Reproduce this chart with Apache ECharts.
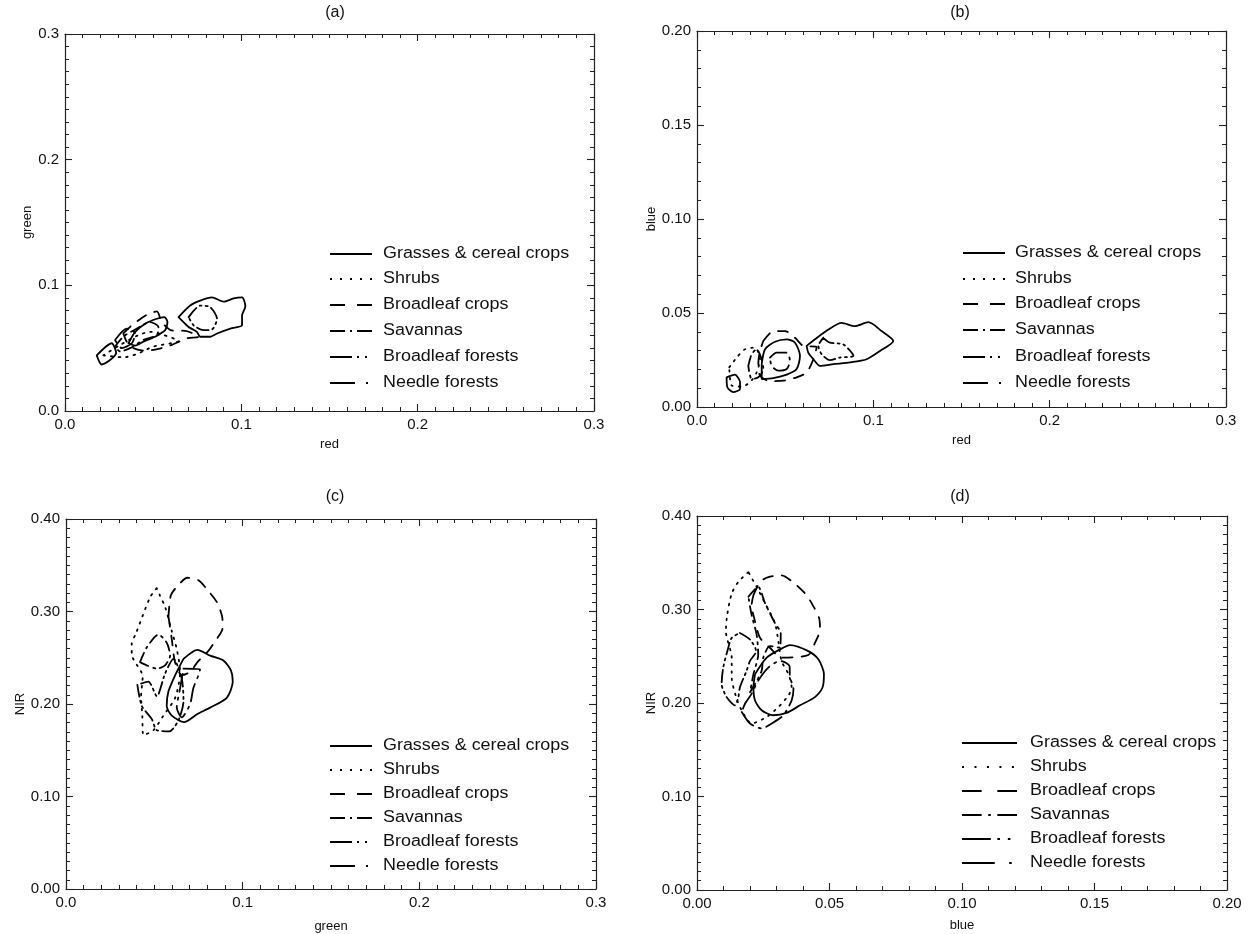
<!DOCTYPE html>
<html>
<head>
<meta charset="utf-8">
<script src="https://cdn.jsdelivr.net/npm/echarts@6/dist/echarts.min.js"></script>
<style>html,body{margin:0;padding:0;background:#fff;}#c{width:1248px;height:934px;}</style>
</head>
<body>
<div id="c"></div>
<script>
// ---------- DATA ----------
const classNames = ['Grasses & cereal crops','Shrubs','Broadleaf crops','Savannas','Broadleaf forests','Needle forests'];
const panelTitles = ['(a)','(b)','(c)','(d)'];
const xNames = ['red','red','green','blue'];
const yNames = ['green','blue','NIR','NIR'];
const xTicksA = ['0.0','0.1','0.2','0.3'];
const yTicksA = ['0.0','0.1','0.2','0.3'];
const xTicksB = ['0.0','0.1','0.2','0.3'];
const yTicksB = ['0.00','0.05','0.10','0.15','0.20'];
const xTicksC = ['0.0','0.1','0.2','0.3'];
const yTicksC = ['0.00','0.10','0.20','0.30','0.40'];
const xTicksD = ['0.00','0.05','0.10','0.15','0.20'];
const yTicksD = ['0.00','0.10','0.20','0.30','0.40'];

// (a) red vs green
const a_grasses = [[0.0644,0.0747],[0.0710,0.0839],[0.0767,0.0878],[0.0833,0.0904],[0.0900,0.0870],[0.0956,0.0896],[0.1004,0.0904],[0.1023,0.0833],[0.1004,0.0760],[0.1004,0.0682],[0.0938,0.0656],[0.0862,0.0617],[0.0824,0.0591],[0.0767,0.0591],[0.0748,0.0630],[0.0701,0.0669],[0.0672,0.0708]];
const a_grasses2 = [[0.0360,0.0539],[0.0398,0.0630],[0.0455,0.0695],[0.0521,0.0734],[0.0563,0.0747],[0.0581,0.0708],[0.0568,0.0643],[0.0511,0.0591],[0.0445,0.0552],[0.0398,0.0521]];
const a_grasses3 = [[0.0180,0.0443],[0.0265,0.0539],[0.0290,0.0461],[0.0208,0.0370]];
const a_shrubs = [[0.0218,0.0443],[0.0331,0.0427],[0.0407,0.0453],[0.0502,0.0513],[0.0644,0.0557],[0.0549,0.0609],[0.0483,0.0630],[0.0417,0.0604],[0.0313,0.0526]];
const a_bcrops = [[0.0331,0.0617],[0.0379,0.0682],[0.0464,0.0766],[0.0521,0.0792],[0.0549,0.0708],[0.0606,0.0641],[0.0682,0.0638],[0.0758,0.0591],[0.0691,0.0578],[0.0606,0.0526],[0.0530,0.0495],[0.0455,0.0479],[0.0388,0.0500],[0.0350,0.0552]];
const a_savannas = [[0.0284,0.0513],[0.0331,0.0591],[0.0407,0.0656],[0.0483,0.0708],[0.0530,0.0669],[0.0521,0.0604],[0.0445,0.0565],[0.0369,0.0500],[0.0313,0.0474]];
const a_bforests = [[0.0701,0.0747],[0.0767,0.0839],[0.0824,0.0826],[0.0862,0.0734],[0.0833,0.0648],[0.0786,0.0643],[0.0729,0.0682]];
const a_needle = [[0.0284,0.0565],[0.0350,0.0656],[0.0398,0.0617],[0.0379,0.0539],[0.0322,0.0500]];

// (b) red vs blue
const b_grasses = [[0.0622,0.0325],[0.0669,0.0360],[0.0745,0.0412],[0.0820,0.0447],[0.0896,0.0430],[0.0972,0.0451],[0.1047,0.0404],[0.1113,0.0351],[0.1038,0.0298],[0.0962,0.0254],[0.0868,0.0237],[0.0773,0.0228],[0.0698,0.0219],[0.0660,0.0254],[0.0631,0.0289]];
const b_grasses2 = [[0.0367,0.0228],[0.0386,0.0307],[0.0442,0.0347],[0.0509,0.0360],[0.0556,0.0342],[0.0584,0.0272],[0.0565,0.0202],[0.0509,0.0172],[0.0433,0.0154],[0.0367,0.0149]];
const b_grasses3 = [[0.0168,0.0158],[0.0215,0.0172],[0.0244,0.0132],[0.0244,0.0096],[0.0206,0.0079],[0.0172,0.0105]];
const b_shrubs = [[0.0183,0.0211],[0.0225,0.0263],[0.0272,0.0307],[0.0329,0.0316],[0.0357,0.0254],[0.0338,0.0184],[0.0301,0.0132],[0.0253,0.0109],[0.0197,0.0114]];
const b_bcrops = [[0.0376,0.0351],[0.0433,0.0404],[0.0499,0.0404],[0.0556,0.0368],[0.0603,0.0325],[0.0679,0.0319],[0.0660,0.0254],[0.0622,0.0184],[0.0565,0.0158],[0.0490,0.0140],[0.0414,0.0137],[0.0357,0.0167],[0.0348,0.0237],[0.0357,0.0298]];
const b_savannas = [[0.0291,0.0219],[0.0310,0.0281],[0.0338,0.0307],[0.0367,0.0254],[0.0376,0.0202],[0.0348,0.0158],[0.0310,0.0149],[0.0297,0.0184]];
const b_bforests = [[0.0716,0.0368],[0.0754,0.0342],[0.0830,0.0333],[0.0887,0.0272],[0.0811,0.0263],[0.0754,0.0249],[0.0707,0.0281],[0.0688,0.0325]];
const b_needle = [[0.0414,0.0263],[0.0452,0.0289],[0.0509,0.0289],[0.0527,0.0246],[0.0509,0.0202],[0.0461,0.0193],[0.0423,0.0219]];

// (c) green vs NIR
const c_grasses = [[0.0665,0.2488],[0.0744,0.2586],[0.0816,0.2523],[0.0891,0.2470],[0.0933,0.2365],[0.0944,0.2242],[0.0910,0.2067],[0.0816,0.1961],[0.0744,0.1891],[0.0669,0.1804],[0.0599,0.1874],[0.0570,0.1979],[0.0580,0.2137],[0.0618,0.2312]];
const c_shrubs = [[0.0514,0.3253],[0.0476,0.3154],[0.0397,0.2768],[0.0372,0.2646],[0.0372,0.2540],[0.0434,0.2295],[0.0425,0.2084],[0.0432,0.1874],[0.0438,0.1663],[0.0495,0.1716],[0.0551,0.1874],[0.0618,0.2067],[0.0646,0.2347],[0.0627,0.2593],[0.0599,0.2786],[0.0561,0.3049],[0.0532,0.3172]];
const c_bcrops = [[0.0580,0.2944],[0.0593,0.3172],[0.0627,0.3267],[0.0687,0.3365],[0.0750,0.3337],[0.0812,0.3207],[0.0857,0.3091],[0.0886,0.2909],[0.0886,0.2821],[0.0838,0.2663],[0.0806,0.2575],[0.0744,0.2453],[0.0703,0.2347],[0.0655,0.2312],[0.0617,0.2453],[0.0599,0.2698]];
const c_savannas = [[0.0419,0.2453],[0.0457,0.2611],[0.0523,0.2751],[0.0570,0.2663],[0.0589,0.2523],[0.0561,0.2418],[0.0514,0.2382],[0.0457,0.2418]];
const c_bforests = [[0.0404,0.2207],[0.0429,0.1979],[0.0485,0.1839],[0.0514,0.1716],[0.0585,0.1705],[0.0636,0.1821],[0.0665,0.2032],[0.0655,0.2277],[0.0608,0.2488],[0.0561,0.2330],[0.0514,0.2084],[0.0466,0.2242]];
const c_needle = [[0.0665,0.2382],[0.0759,0.2375],[0.0750,0.2312],[0.0721,0.2172],[0.0702,0.1996],[0.0655,0.1856],[0.0627,0.1961],[0.0646,0.2172]];

// (d) blue vs NIR
const d_grasses = [[0.0219,0.2309],[0.0263,0.2485],[0.0313,0.2573],[0.0351,0.2619],[0.0420,0.2555],[0.0458,0.2467],[0.0479,0.2309],[0.0474,0.2168],[0.0445,0.2063],[0.0389,0.1975],[0.0338,0.1894],[0.0288,0.1869],[0.0244,0.1922],[0.0219,0.2027],[0.0213,0.2168]];
const d_shrubs = [[0.0194,0.3400],[0.0156,0.3295],[0.0131,0.3171],[0.0114,0.2943],[0.0109,0.2767],[0.0131,0.2485],[0.0131,0.2274],[0.0152,0.2027],[0.0175,0.1887],[0.0206,0.1781],[0.0263,0.1851],[0.0307,0.1957],[0.0345,0.2080],[0.0357,0.2168],[0.0345,0.2309],[0.0319,0.2450],[0.0307,0.2661],[0.0294,0.2855],[0.0257,0.3066],[0.0225,0.3242]];
const d_bcrops = [[0.0213,0.3154],[0.0238,0.3295],[0.0269,0.3347],[0.0319,0.3365],[0.0364,0.3288],[0.0408,0.3171],[0.0433,0.3066],[0.0461,0.2907],[0.0464,0.2784],[0.0445,0.2643],[0.0420,0.2513],[0.0319,0.2485],[0.0275,0.2591],[0.0238,0.2696],[0.0219,0.2872],[0.0206,0.3048]];
const d_savannas = [[0.0194,0.3136],[0.0231,0.3242],[0.0257,0.3066],[0.0294,0.2855],[0.0316,0.2749],[0.0313,0.2591],[0.0275,0.2608],[0.0250,0.2485],[0.0244,0.2344],[0.0219,0.2203],[0.0200,0.2115],[0.0213,0.2309],[0.0231,0.2520],[0.0225,0.2731],[0.0206,0.2943]];
const d_bforests = [[0.0162,0.2749],[0.0200,0.2679],[0.0223,0.2555],[0.0200,0.2450],[0.0187,0.2344],[0.0162,0.2168],[0.0156,0.2063],[0.0143,0.1975],[0.0112,0.2063],[0.0093,0.2203],[0.0099,0.2379],[0.0118,0.2591],[0.0131,0.2696]];
const d_needle = [[0.0169,0.1904],[0.0200,0.1781],[0.0244,0.1728],[0.0288,0.1792],[0.0326,0.1869],[0.0357,0.2027],[0.0364,0.2151],[0.0351,0.2274],[0.0349,0.2397],[0.0313,0.2450],[0.0269,0.2379],[0.0231,0.2239],[0.0206,0.2098],[0.0181,0.1992]];

// ---------- LAYOUT / STYLE ----------
const FONT = '"Liberation Sans", Arial, Helvetica, sans-serif';
const dashStyles = ['solid',[1.6,6],[10,9],[10,5,2,5],[12,4,2,4,2,4],[18,6,2,6]];
const legendDash = ['solid',[2,8],[15,12],[15,5,2,5],[22,5,2,6,2,20],[25,11,2,20]];

const panels = [
  {grid:{left:65,top:34,width:529,height:377}, x:[0,0.3,0.1,10,xTicksA], y:[0,0.3,0.1,10,yTicksA], xGap:27, yGap:31, tx:335, ty:13,
   leg:{x1:330,x2:372,tx:383,rows:[254,279,305,331,357,383]},
   shapes:[[0,a_grasses],[0,a_grasses2],[0,a_grasses3],[1,a_shrubs],[2,a_bcrops],[3,a_savannas],[4,a_bforests],[5,a_needle]]},
  {grid:{left:697,top:31,width:529,height:376}, x:[0,0.3,0.1,10,xTicksB], y:[0,0.2,0.05,5,yTicksB], xGap:27, yGap:33, tx:960, ty:13,
   leg:{x1:963,x2:1005,tx:1015,rows:[253,279,304,330,357,383]},
   shapes:[[0,b_grasses],[0,b_grasses2],[0,b_grasses3],[1,b_shrubs],[2,b_bcrops],[3,b_savannas],[4,b_bforests],[5,b_needle]]},
  {grid:{left:66,top:519,width:530,height:376}, x:[0,0.3,0.1,10,xTicksC], y:[0,0.4,0.1,10,yTicksC], xGap:31, yGap:31, tx:335, ty:497,
   leg:{x1:330,x2:372,tx:383,rows:[746,770,794,818,842,866]},
   shapes:[[0,c_grasses],[1,c_shrubs],[2,c_bcrops],[3,c_savannas],[4,c_bforests],[5,c_needle]]},
  {grid:{left:697,top:516,width:530,height:374}, x:[0,0.2,0.05,5,xTicksD], y:[0,0.4,0.1,10,yTicksD], xGap:29, yGap:35, tx:960, ty:497,
   leg:{x1:962,x2:1017,tx:1030,rows:[743,767,791,815,839,863]},
   shapes:[[0,d_grasses],[1,d_shrubs],[2,d_bcrops],[3,d_savannas],[4,d_bforests],[5,d_needle]]}
];

const axisLineStyle = {color:'#222', width:1.2};
function mkAxis(gi, spec, position, labeled, name, gap) {
  const labels = spec[4];
  return {
    type:'value', gridIndex:gi, position:position, min:spec[0], max:spec[1], interval:spec[2],
    axisLine:{show:true, onZero:false, lineStyle:axisLineStyle},
    axisTick:{show:true, inside:true, length:7, lineStyle:{color:'#222', width:1.1}},
    minorTick:{show:true, splitNumber:spec[3], length:4, lineStyle:{color:'#222', width:1}},
    splitLine:{show:false},
    axisLabel:{show:labeled, color:'#111', fontFamily:FONT, fontSize:15, margin:6,
      formatter:function(v){ const i = Math.round((v-spec[0])/spec[2]); return labels[i]; }},
    name: labeled ? name : '', nameLocation:'middle', nameGap:gap,
    nameTextStyle:{color:'#111', fontFamily:FONT, fontSize:13}
  };
}

const grids=[], xAxes=[], yAxes=[], series=[], graphics=[];
panels.forEach(function(p, gi){
  grids.push(Object.assign({containLabel:false}, p.grid));
  xAxes.push(mkAxis(gi, p.x, 'bottom', true, xNames[gi], p.xGap));
  xAxes.push(mkAxis(gi, p.x, 'top', false, '', 0));
  yAxes.push(mkAxis(gi, p.y, 'left', true, yNames[gi], p.yGap));
  yAxes.push(mkAxis(gi, p.y, 'right', false, '', 0));
  p.shapes.forEach(function(s){
    const pts = s[1].concat([s[1][0]]);
    series.push({
      type:'line', name:classNames[s[0]], xAxisIndex:gi*2, yAxisIndex:gi*2,
      data:pts, showSymbol:false, symbol:'none', smooth:0.25, animation:false,
      lineStyle:{color:'#000', width:1.8, type:dashStyles[s[0]], cap:'round'}
    });
  });
  graphics.push({type:'text', x:p.tx, y:p.ty, style:{text:panelTitles[gi], fill:'#111', font:'16px '+FONT, textAlign:'center', textVerticalAlign:'middle'}});
  const f = (p.leg.x2 - p.leg.x1) / 42;
  p.leg.rows.forEach(function(ry, k){
    const dash = legendDash[k]==='solid' ? null : (k===1 ? legendDash[k].map(function(v,i){return i%2? v*f : v;}) : legendDash[k].map(function(v){return v*f;}));
    graphics.push({type:'line', shape:{x1:p.leg.x1, y1:ry, x2:p.leg.x2, y2:ry},
      style:{stroke:'#000', lineWidth:1.8, lineDash: dash}});
    graphics.push({type:'text', x:p.leg.tx, y:ry, scaleX:1.12, style:{text:classNames[k], fill:'#111', font:'16px '+FONT, textVerticalAlign:'middle'}});
  });
});

const chart = echarts.init(document.getElementById('c'), null, {renderer:'canvas'});
chart.setOption({
  animation:false,
  backgroundColor:'#fff',
  grid:grids, xAxis:xAxes, yAxis:yAxes, series:series, graphic:graphics
});
</script>
</body>
</html>
